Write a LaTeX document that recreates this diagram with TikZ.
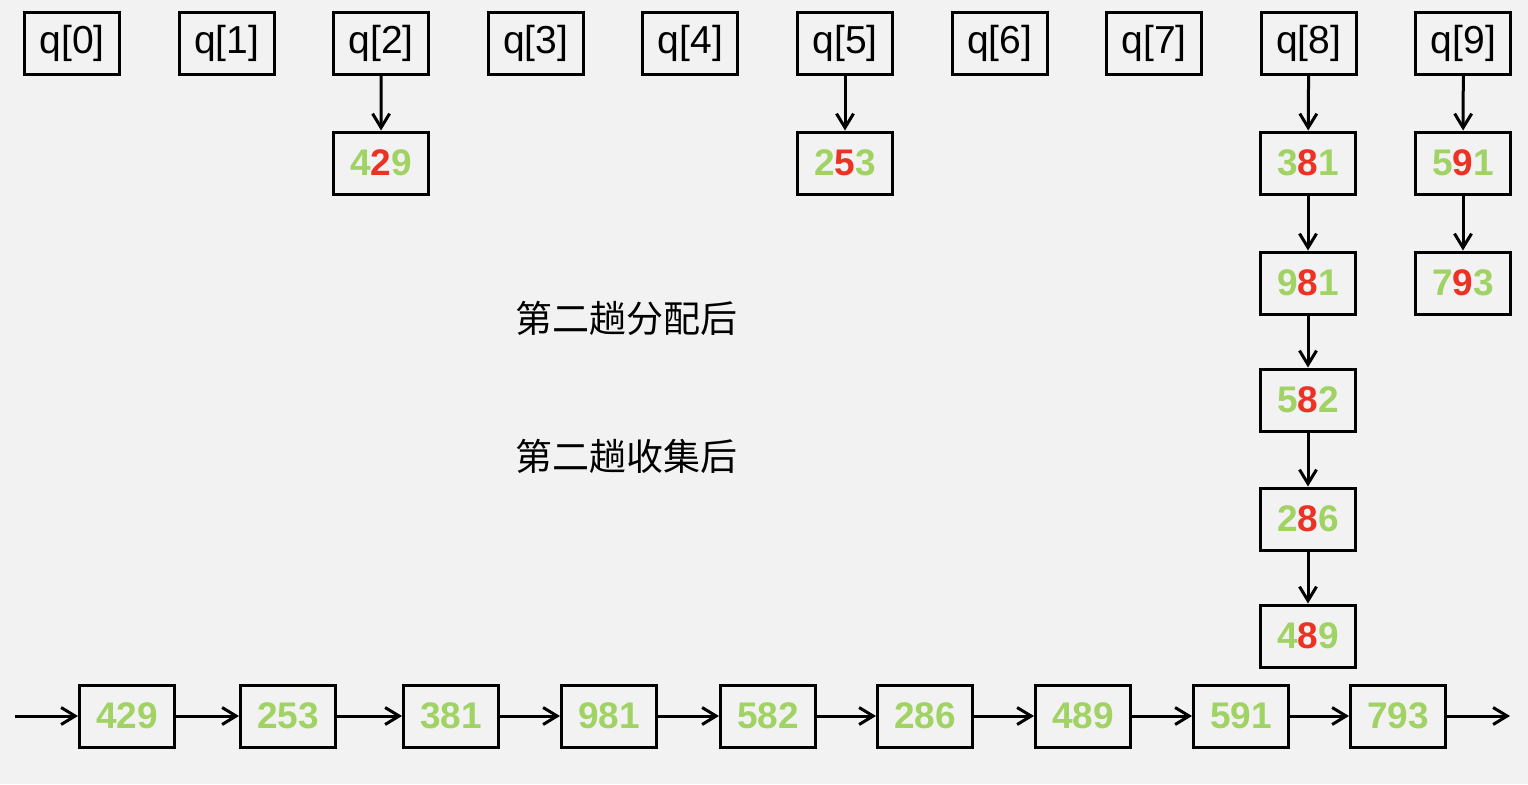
\documentclass[tikz,border=0pt]{standalone}
\usepackage{fontspec}
\setmainfont{Liberation Sans}
\newfontfamily\cjk{Noto Sans CJK SC}
\usetikzlibrary{arrows.meta}
\definecolor{bggray}{RGB}{242,242,242}
\definecolor{numgreen}{RGB}{160,210,100}
\definecolor{numred}{RGB}{235,50,35}
\newcommand{\rdig}[3]{\textcolor{numgreen}{#1}\textcolor{numred}{#2}\textcolor{numgreen}{#3}}

\begin{document}
\begin{tikzpicture}[x=0.5pt,y=-0.5pt]
\tikzstyle{cell}=[draw, line width=1.5pt, minimum width=47.5pt, minimum height=31pt, inner sep=0pt, font=\fontsize{19.5}{19.5}\selectfont]
\tikzstyle{num}=[cell, font=\fontsize{18.5}{18.5}\selectfont\bfseries, text=numgreen]
\tikzstyle{link}=[line width=1.5pt, -{Straight Barb[length=7pt,width=8.5pt]}]

\fill[bggray] (0,0) rectangle (1528,784);

\foreach \i in {0,1,...,9} {
\node[cell] (q\i) at (72+154.6*\i,43) {q[\i]};
}

% after distribution
\node[num] (n429) at (381,163) {\rdig429};
\node[num] (n253) at (845,163) {\rdig253};
\node[num] (n381) at (1308,163) {\rdig381};
\node[num] (n981) at (1308,283) {\rdig981};
\node[num] (n582) at (1308,400) {\rdig582};
\node[num] (n286) at (1308,519) {\rdig286};
\node[num] (n489) at (1308,636) {\rdig489};
\node[num] (n591) at (1463,163) {\rdig591};
\node[num] (n793) at (1463,283) {\rdig793};

\foreach \a/\b in {q2/n429, q5/n253, q8/n381, n381/n981, n981/n582, n582/n286, n286/n489, q9/n591, n591/n793} {
\draw[link] (\a) -- (\b);
}

\node[font=\cjk\fontsize{18.5}{18.5}\selectfont] (distlabel) at (626,318) {第二趟分配后};
\node[font=\cjk\fontsize{18.5}{18.5}\selectfont] (colllabel) at (626,456) {第二趟收集后};

% after collection
\coordinate (start) at (15,716);
\coordinate (end) at (1510,716);
\foreach \x/\v in {127/429, 288/253, 451/381, 609/981, 768/582, 925/286, 1083/489, 1241/591, 1398/793} {
\node[num] (s\v) at (\x,716) {\v};
}
\foreach \a/\b in {start/s429, s429/s253, s253/s381, s381/s981, s981/s582, s582/s286, s286/s489, s489/s591, s591/s793, s793/end} {
\draw[link] (\a) -- (\b);
}

\end{tikzpicture}
\end{document}
